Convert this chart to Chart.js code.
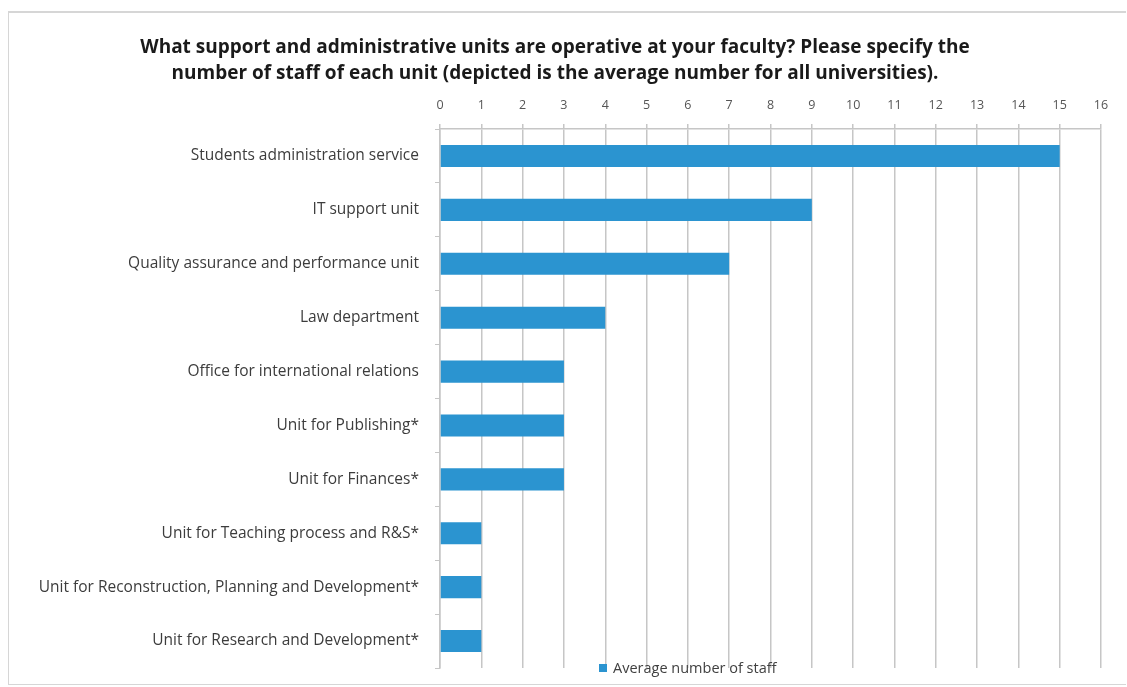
<!DOCTYPE html>
<html>
<head>
<meta charset="utf-8">
<script src="https://cdn.jsdelivr.net/npm/chart.js@4"></script>
<style>
  body { margin: 0; background: #fff; }
  #frame {
    position: absolute; left: 8px; top: 11px;
    width: 1117px; height: 671px;
    border: 1px solid #d6d6d6; border-top: 2px solid #d6d6d6; border-right: none;
  }
  #legend {
    position: absolute; left: 599px; top: 658px;
    font: 14.5px "Open Sans", sans-serif; color: #404040;
    display: flex; align-items: center;
  }
  #legend span.box { width: 8px; height: 8px; margin-right: 6px; display: inline-block; }
</style>
</head>
<body>
<div id="frame"><canvas id="chart" width="1117" height="671"></canvas></div>
<div id="legend"><span class="box"></span><span class="txt"></span></div>
<script>
// units and their average staff count
const units = [
    "Students administration service",
    "IT support unit",
    "Quality assurance and performance unit",
    "Law department",
    "Office for international relations",
    "Unit for Publishing*",
    "Unit for Finances*",
    "Unit for Teaching process and R&S*",
    "Unit for Reconstruction, Planning and Development*",
    "Unit for Research and Development*"
];
const staffCounts = [15, 9, 7, 4, 3, 3, 3, 1, 1, 1];
const seriesName = "Average number of staff";
const titleLines = [
    "What support and administrative units are operative at your faculty? Please specify the",
    "number of staff of each unit (depicted is the average number for all universities)."
];
const xMin = 0, xMax = 16;

const barColor = "#2b94d0";
const gridColor = "#c6c6c6";
const fontFamily = "'Open Sans', sans-serif";

document.addEventListener("DOMContentLoaded", () => {
    const legend = document.getElementById("legend");
    legend.querySelector(".box").style.background = barColor;
    legend.querySelector(".txt").textContent = seriesName;

    const ctx = document.getElementById("chart").getContext("2d");

    new Chart(ctx, {
        type: "bar",
        data: {
            labels: units,
            datasets: [
                {
                    label: seriesName,
                    data: staffCounts,
                    backgroundColor: barColor,
                    categoryPercentage: 1,
                    barPercentage: 0.41,
                },
            ],
        },
        options: {
            indexAxis: "y",
            responsive: false,
            animation: false,
            layout: { padding: { left: 0, right: 25, top: 0, bottom: 16 } },
            plugins: {
                legend: { display: false },
                tooltip: { enabled: false },
                title: {
                    display: true,
                    text: titleLines,
                    color: "#1a1a1a",
                    font: { family: fontFamily, size: 19, weight: "bold", lineHeight: 1.37 },
                    padding: { top: 22, bottom: 0 },
                },
            },
            scales: {
                x: {
                    position: "top",
                    min: xMin,
                    max: xMax,
                    ticks: {
                        stepSize: 1,
                        color: "#555",
                        padding: 11,
                        font: { family: fontFamily, size: 12.5 },
                    },
                    grid: { color: gridColor, lineWidth: 1.5, tickLength: 5 },
                    border: { color: gridColor, width: 1.5 },
                    afterFit: (scale) => { scale.height = 42; },
                },
                y: {
                    ticks: {
                        color: "#3c3c3c",
                        padding: 16,
                        font: { family: fontFamily, size: 15.5 },
                    },
                    grid: { color: gridColor, lineWidth: 1, drawOnChartArea: false, tickLength: 5, offset: true },
                    border: { color: gridColor, width: 1.5 },
                    afterFit: (scale) => {
                        // labels sit inside their bands, no extra room needed above/below
                        scale.width = 431;
                        scale.paddingTop = 0;
                        scale.paddingBottom = 0;
                    },
                },
            },
        },
    });
});
</script>
</body>
</html>
